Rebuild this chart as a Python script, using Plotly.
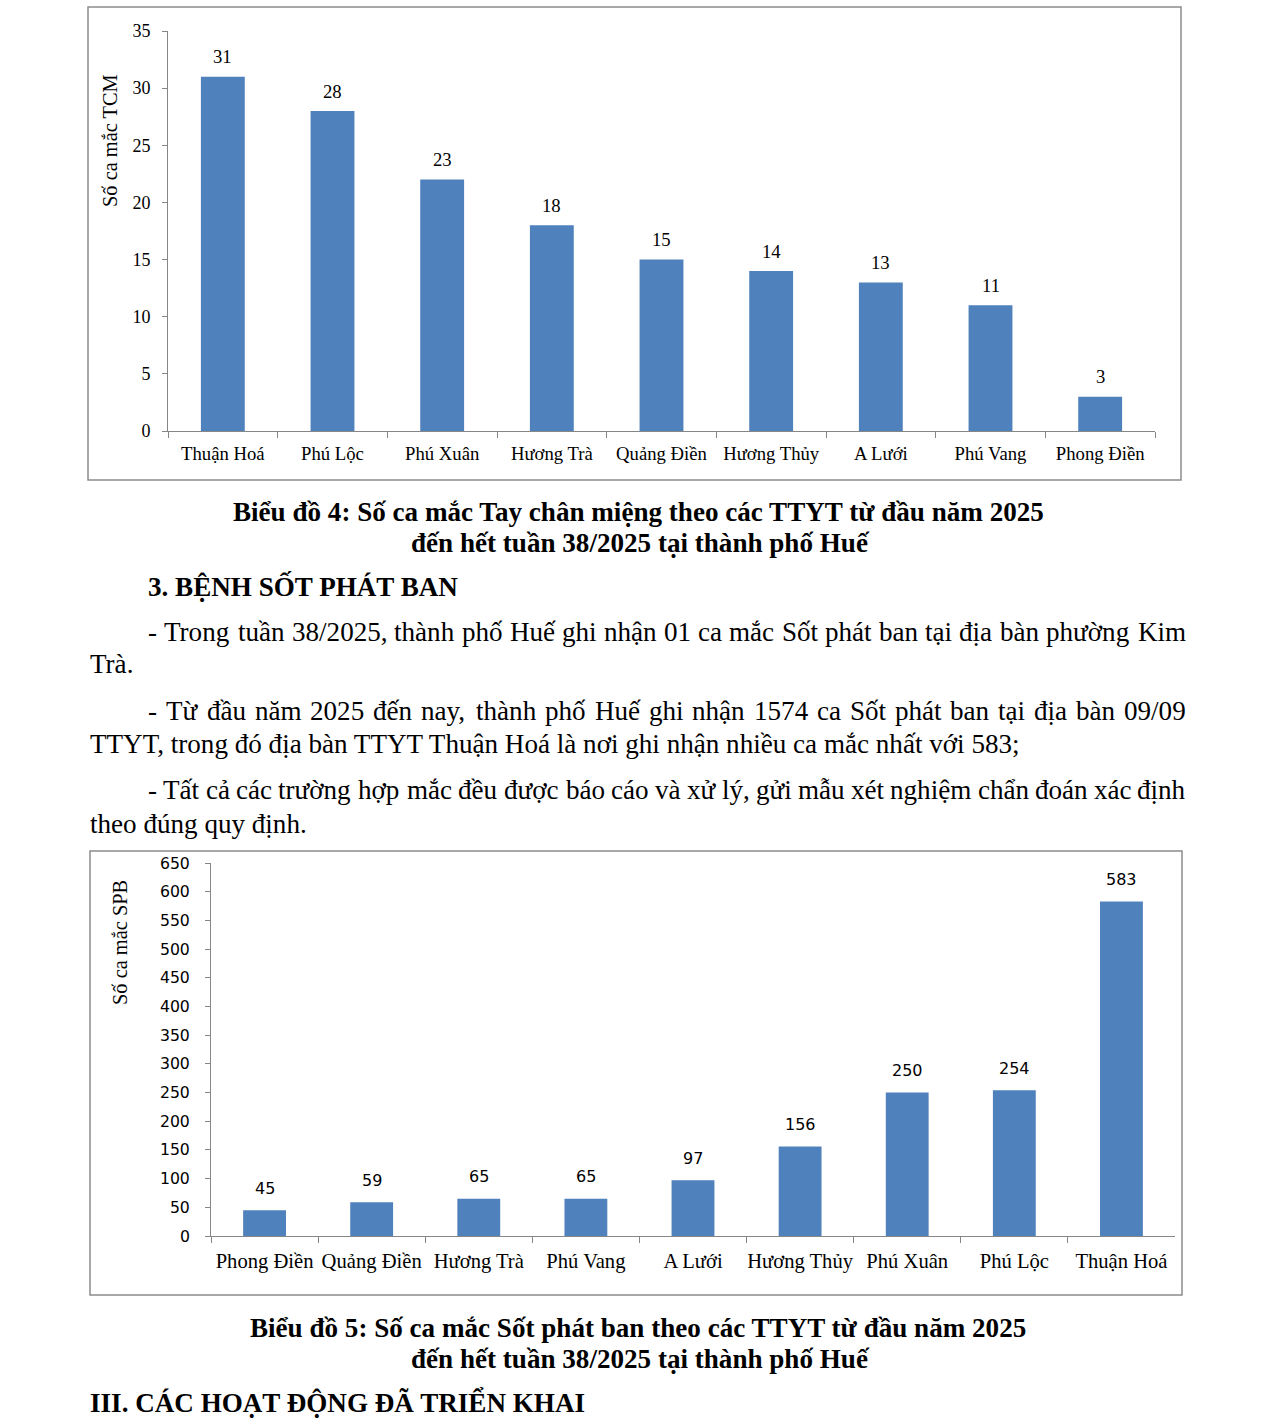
import unicodedata
import plotly.graph_objects as go

W, H = 1275, 1425

# ---------------- Data ----------------
# Chart 4: Tay chân miệng (TCM)
tcm_categories = ["Thuận Hoá", "Phú Lộc", "Phú Xuân", "Hương Trà", "Quảng Điền",
                  "Hương Thủy", "A Lưới", "Phú Vang", "Phong Điền"]
tcm_values = [31, 28, 22, 18, 15, 14, 13, 11, 3]
tcm_labels = ["31", "28", "23", "18", "15", "14", "13", "11", "3"]
tcm_yticks = [0, 5, 10, 15, 20, 25, 30, 35]

# Chart 5: Sốt phát ban (SPB)
spb_categories = ["Phong Điền", "Quảng Điền", "Hương Trà", "Phú Vang", "A Lưới",
                  "Hương Thủy", "Phú Xuân", "Phú Lộc", "Thuận Hoá"]
spb_values = [45, 59, 65, 65, 97, 156, 250, 254, 583]
spb_labels = ["45", "59", "65", "65", "97", "156", "250", "254", "583"]
spb_yticks = [0, 50, 100, 150, 200, 250, 300, 350, 400, 450, 500, 550, 600, 650]

# ---------------- Helpers ----------------
SERIF = "Liberation Serif"
SANS = "DejaVu Sans"
BAR = "#4F81BD"
AXC = "#868686"


def px(x):
    return x / W


def py(y):
    return 1 - y / H


# Approximate Times/Liberation Serif advance widths (1/1000 em) for justification
_TW = {' ': 250, ',': 250, '.': 250, ';': 278, ':': 278, '-': 333, '/': 278,
       'A': 722, 'B': 667, 'C': 667, 'D': 722, 'E': 611, 'F': 556, 'G': 722, 'H': 722,
       'I': 333, 'J': 389, 'K': 722, 'L': 611, 'M': 889, 'N': 722, 'O': 722, 'P': 556,
       'Q': 722, 'R': 667, 'S': 556, 'T': 611, 'U': 722, 'V': 722, 'W': 944, 'X': 722,
       'Y': 722, 'Z': 611, 'a': 444, 'b': 500, 'c': 444, 'd': 500, 'e': 444, 'f': 333,
       'g': 500, 'h': 500, 'i': 278, 'j': 278, 'k': 500, 'l': 278, 'm': 778, 'n': 500,
       'o': 500, 'p': 500, 'q': 500, 'r': 333, 's': 389, 't': 278, 'u': 500, 'v': 500,
       'w': 722, 'x': 500, 'y': 500, 'z': 444, 'đ': 500, 'Đ': 722}


def text_width(s, size):
    w = 0
    for ch in s:
        if ch in _TW:
            w += _TW[ch]
            continue
        d = unicodedata.normalize('NFD', ch)
        base = d[0]
        if '\u031b' in d:  # horn: ơ / ư
            w += 560
        else:
            w += _TW.get(base, 500)
    return w * size / 1000


fig = go.Figure()

fig.add_trace(go.Bar(x=tcm_categories, y=tcm_values, xaxis="x", yaxis="y",
                     marker=dict(color=BAR, line=dict(width=0)), hoverinfo="x+y"))
fig.add_trace(go.Bar(x=spb_categories, y=spb_values, xaxis="x2", yaxis="y2",
                     marker=dict(color=BAR, line=dict(width=0)), hoverinfo="x+y"))

ann = []
# data labels
for c, v, t in zip(tcm_categories, tcm_values, tcm_labels):
    ann.append(dict(x=c, y=v, xref="x", yref="y", text=t, showarrow=False,
                    yanchor="middle", yshift=20,
                    font=dict(family=SERIF, size=18.7, color="black")))
for c, v, t in zip(spb_categories, spb_values, spb_labels):
    ann.append(dict(x=c, y=v, xref="x2", yref="y2", text=t, showarrow=False,
                    yanchor="middle", yshift=22,
                    font=dict(family=SANS, size=16, color="black")))

# y-axis titles
ann.append(dict(x=px(110), y=py(141), xref="paper", yref="paper", text="Số ca mắc TCM",
                textangle=-90, showarrow=False, xanchor="center", yanchor="middle",
                font=dict(family=SERIF, size=20.4, color="black")))
ann.append(dict(x=px(120), y=py(943), xref="paper", yref="paper", text="Số ca mắc SPB",
                textangle=-90, showarrow=False, xanchor="center", yanchor="middle",
                font=dict(family=SERIF, size=20.4, color="black")))

PAD = 2  # annotation inner padding


def txt(x, y, s, anchor="left", bold=False, size=27.1):
    t = f"<b>{s}</b>" if bold else s
    xx = x - PAD if anchor == "left" else x
    ann.append(dict(x=px(xx), y=py(y), xref="paper", yref="paper", text=t,
                    showarrow=False, xanchor=anchor, yanchor="middle",
                    font=dict(family=SERIF, size=size, color="black")))


def justified(x0, x1, y, s, size=27.1):
    words = s.split(" ")
    widths = [text_width(w, size) for w in words]
    gap = (x1 - x0 - sum(widths)) / (len(words) - 1)
    cur = x0
    for i, (w, ww) in enumerate(zip(words, widths)):
        if i == len(words) - 1:
            ann.append(dict(x=px(x1 + PAD), y=py(y), xref="paper", yref="paper", text=w,
                            showarrow=False, xanchor="right", yanchor="middle",
                            font=dict(family=SERIF, size=size, color="black")))
        else:
            ann.append(dict(x=px(cur - PAD), y=py(y), xref="paper", yref="paper", text=w,
                            showarrow=False, xanchor="left", yanchor="middle",
                            font=dict(family=SERIF, size=size, color="black")))
        cur += ww + gap


txt(638, 512, "Biểu đồ 4: Số ca mắc Tay chân miệng theo các TTYT từ đầu năm 2025", "center", True)
txt(641, 543, "đến hết tuần 38/2025 tại thành phố Huế", "center", True)
txt(148, 586, "3. BỆNH SỐT PHÁT BAN", "left", True)
justified(148, 1186, 632, "- Trong tuần 38/2025, thành phố Huế ghi nhận 01 ca mắc Sốt phát ban tại địa bàn phường Kim")
txt(90, 664, "Trà.")
justified(148, 1186, 711, "- Từ đầu năm 2025 đến nay, thành phố Huế ghi nhận 1574 ca Sốt phát ban tại địa bàn 09/09")
txt(90, 744, "TTYT, trong đó địa bàn TTYT Thuận Hoá là nơi ghi nhận nhiều ca mắc nhất với 583;")
justified(148, 1186, 790, "- Tất cả các trường hợp mắc đều được báo cáo và xử lý, gửi mẫu xét nghiệm chẩn đoán xác định")
txt(90, 824, "theo đúng quy định.")
txt(638, 1328, "Biểu đồ 5: Số ca mắc Sốt phát ban theo các TTYT từ đầu năm 2025", "center", True)
txt(641, 1359, "đến hết tuần 38/2025 tại thành phố Huế", "center", True)
txt(90, 1402, "III. CÁC HOẠT ĐỘNG ĐÃ TRIỂN KHAI", "left", True)

shapes = [
    dict(type="rect", xref="paper", yref="paper", x0=px(88), x1=px(1181), y0=py(480), y1=py(7),
         line=dict(color="#8c8c8c", width=1.5), fillcolor="rgba(0,0,0,0)"),
    dict(type="rect", xref="paper", yref="paper", x0=px(90), x1=px(1182), y0=py(1295), y1=py(851),
         line=dict(color="#8c8c8c", width=1.5), fillcolor="rgba(0,0,0,0)"),
]

xcommon = dict(type="category", showline=True, linecolor=AXC, linewidth=1, ticks="outside",
               tickson="boundaries", ticklen=6, tickcolor=AXC, showgrid=False, zeroline=False,
               range=[-0.5, 8.5], fixedrange=True, tickangle=0, automargin=False)
ycommon = dict(showline=True, linecolor=AXC, linewidth=1, ticks="outside", ticklen=5,
               tickcolor=AXC, showgrid=False, zeroline=False, fixedrange=True, automargin=False)

fig.update_layout(
    width=W, height=H, autosize=False,
    margin=dict(l=0, r=0, t=0, b=0, pad=0, autoexpand=False),
    paper_bgcolor="white", plot_bgcolor="white",
    showlegend=False, bargap=0.6,
    annotations=ann, shapes=shapes,
    xaxis=dict(**xcommon, domain=[px(168), px(1155)], anchor="y",
               tickfont=dict(family=SERIF, size=18.7, color="black"), ticklabelstandoff=6),
    yaxis=dict(**ycommon, domain=[py(431), py(31)], anchor="x", range=[0, 35],
               tickvals=tcm_yticks, ticktext=[str(v) for v in tcm_yticks],
               tickfont=dict(family=SERIF, size=18, color="black"), ticklabelstandoff=8),
    xaxis2=dict(**xcommon, domain=[px(211), px(1175)], anchor="y2",
                tickfont=dict(family=SERIF, size=20.6, color="black"), ticklabelstandoff=6),
    yaxis2=dict(**ycommon, domain=[py(1236), py(863)], anchor="x2", range=[0, 650],
                tickvals=spb_yticks, ticktext=[str(v) for v in spb_yticks],
                tickfont=dict(family=SANS, size=15.7, color="black"), ticklabelstandoff=12),
)

fig.write_html("out.html", config={"displayModeBar": False},
               post_script="document.body.style.margin='0';document.body.style.overflow='hidden';")
